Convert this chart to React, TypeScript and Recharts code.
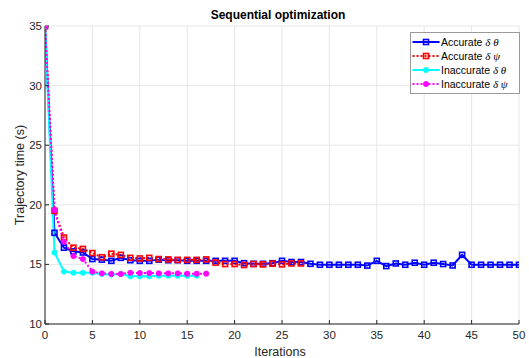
import { CartesianGrid, Label, Legend, Line, LineChart, XAxis, YAxis } from "recharts";

// trajectory time per iteration
const accurateTheta = [
  35, 17.65, 16.4, 16.1, 16.0, 15.45, 15.4, 15.3, 15.55, 15.35, 15.3, 15.3, 15.4, 15.35, 15.35, 15.3,
  15.3, 15.3, 15.3, 15.3, 15.3, 15.1, 15.05, 15.05, 15.1, 15.3, 15.2, 15.2, 15.05, 14.97, 14.97, 14.97,
  14.97, 14.97, 14.9, 15.3, 14.86, 15.08, 14.97, 15.14, 14.97, 15.14, 15.03, 14.91, 15.8, 14.97, 14.97,
  14.97, 14.97, 14.97, 14.97,
];
const accuratePsi = [
  35, 19.5, 17.25, 16.4, 16.3, 15.95, 15.6, 15.9, 15.8, 15.55, 15.5, 15.55, 15.45, 15.42, 15.38, 15.38,
  15.38, 15.42, 15.15, 15.03, 15.03, 14.95, 15.03, 15.0, 15.06, 15.0, 15.08, 15.08,
];
const inaccurateTheta = [
  35, 16.0, 14.4, 14.3, 14.3, 14.3, 14.2, 14.15, 14.2, 14.0, 14.0, 14.0, 14.05, 14.05, 14.05, 14.05, 14.05,
];
const inaccuratePsi = [
  35, 19.55, 16.9, 15.7, 15.45, 14.4, 14.25, 14.2, 14.2, 14.3, 14.28, 14.28, 14.25, 14.25, 14.25, 14.22,
  14.22, 14.22,
];

const xTicks = [0, 5, 10, 15, 20, 25, 30, 35, 40, 45, 50];
const yTicks = [10, 15, 20, 25, 30, 35];

type Marker = "square" | "circle";
const series = [
  { key: "accTheta", word: "Accurate", sym: "δ θ", values: accurateTheta, color: "#0000ff", dash: undefined, marker: "square" as Marker },
  { key: "accPsi", word: "Accurate", sym: "δ ψ", values: accuratePsi, color: "#ff0000", dash: "2 2", marker: "square" as Marker },
  { key: "inaccTheta", word: "Inaccurate", sym: "δ θ", values: inaccurateTheta, color: "#00ffff", dash: undefined, marker: "circle" as Marker },
  { key: "inaccPsi", word: "Inaccurate", sym: "δ ψ", values: inaccuratePsi, color: "#ff00ff", dash: "2 2", marker: "circle" as Marker },
];

const sans = "'Liberation Sans', Arial, sans-serif";
const serif = "'Liberation Serif', 'Times New Roman', serif";
const ink = "#262626";

function drawMarker(marker: Marker, color: string, cx: number, cy: number, key?: number | string) {
  if (marker === "square") {
    return (
      <rect key={key} x={cx - 2.5} y={cy - 2.5} width={5} height={5} fill="none" stroke={color} strokeWidth={1.6} />
    );
  }
  return <circle key={key} cx={cx} cy={cy} r={2.6} fill={color} stroke={color} strokeWidth={0.8} />;
}

function LegendBox() {
  return (
    <div
      style={{
        width: 108,
        border: "1px solid #9a9a9a",
        background: "#fff",
        padding: "1.5px 0",
        fontFamily: sans,
        fontSize: 10.5,
        color: "#000",
      }}
    >
      {series.map((s) => (
        <div key={s.key} style={{ display: "flex", alignItems: "center", height: 14.2, whiteSpace: "nowrap" }}>
          <svg width={30} height={10} style={{ flex: "none" }}>
            <line x1={1.5} x2={28.5} y1={5} y2={5} stroke={s.color} strokeWidth={2} strokeDasharray={s.dash} />
            {drawMarker(s.marker, s.color, 15, 5)}
          </svg>
          <span>
            {s.word} <i style={{ fontFamily: serif, fontSize: 11 }}>{s.sym}</i>
          </span>
        </div>
      ))}
    </div>
  );
}

export default function App() {
  return (
    <div style={{ position: "relative", width: 529, height: 358, background: "#fff" }}>
      <style>{`body{margin:0}`}</style>
      <div
        style={{
          position: "absolute",
          top: 9,
          left: 0,
          width: 556,
          textAlign: "center",
          fontFamily: sans,
          fontWeight: "bold",
          fontSize: 12,
          lineHeight: "13px",
          color: "#000",
          zIndex: 2,
        }}
      >
        Sequential optimization
      </div>
      <LineChart width={529} height={358} margin={{ top: 26, right: 10, left: 15, bottom: 9 }}>
        <CartesianGrid stroke="#e6e6e6" />
        <XAxis
          type="number"
          dataKey="iter"
          domain={[0, 50]}
          ticks={xTicks}
          allowDataOverflow
          height={25}
          tickSize={-4}
          tickMargin={11}
          tick={{ fill: ink, fontSize: 11.5, fontFamily: sans }}
          stroke={ink}
        >
          <Label
            content={({ viewBox }: any) => (
              <text
                x={viewBox.x + viewBox.width / 2 - 2}
                y={356}
                textAnchor="middle"
                fontFamily={sans}
                fontSize={12.5}
                fill={ink}
              >
                Iterations
              </text>
            )}
          />
        </XAxis>
        <YAxis
          type="number"
          domain={[10, 35]}
          ticks={yTicks}
          allowDataOverflow
          width={30}
          tickSize={-4}
          tickMargin={7}
          tick={{ fill: ink, fontSize: 11.5, fontFamily: sans }}
          stroke={ink}
        >
          <Label
            content={({ viewBox }: any) => {
              const cy = viewBox.y + viewBox.height / 2;
              return (
                <text
                  x={24}
                  y={cy}
                  transform={`rotate(-90 24 ${cy})`}
                  textAnchor="middle"
                  fontFamily={sans}
                  fontSize={12.5}
                  fill={ink}
                >
                  Trajectory time (s)
                </text>
              );
            }}
          />
        </YAxis>
        <Legend
          layout="horizontal"
          verticalAlign="middle"
          align="center"
          content={() => <LegendBox />}
          wrapperStyle={{ top: 32, left: 410, width: 110, height: 62 }}
        />
        {series.map((s) => (
          <Line
            key={s.key}
            data={s.values.map((v, i) => ({ iter: i, v }))}
            dataKey="v"
            type="linear"
            stroke={s.color}
            strokeWidth={2}
            strokeDasharray={s.dash}
            dot={(p: any) => drawMarker(s.marker, s.color, p.cx, p.cy, `${s.key}-${p.index}`)}
            activeDot={false}
            isAnimationActive={false}
            legendType="none"
          />
        ))}
      </LineChart>
    </div>
  );
}
